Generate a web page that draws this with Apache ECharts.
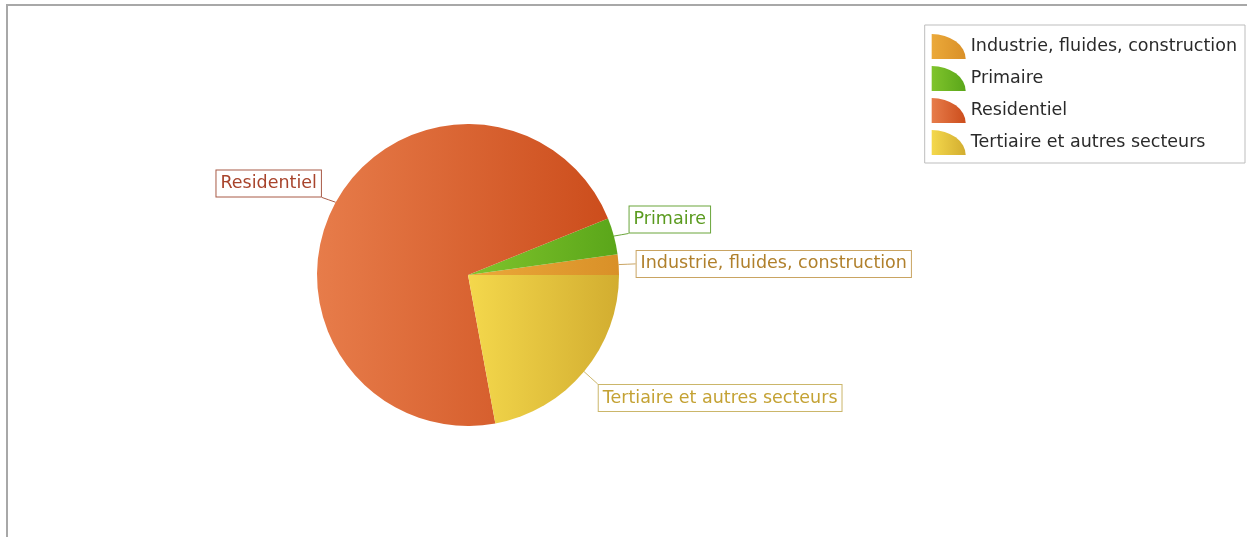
<!DOCTYPE html>
<html>
<head>
<meta charset="utf-8">
<script src="https://cdn.jsdelivr.net/npm/echarts@6/dist/echarts.min.js"></script>
<style>
html,body{margin:0;padding:0;background:#fff;}
#frame{position:absolute;left:6px;top:4px;width:1241px;height:533px;border-top:2px solid #a8a8a8;border-left:2px solid #a8a8a8;box-sizing:border-box;}
#chart{position:absolute;left:0;top:0;width:1247px;height:537px;}
</style>
</head>
<body>
<div id="frame"></div>
<div id="chart"></div>
<script>
var categories = ['Industrie, fluides, construction', 'Primaire', 'Residentiel', 'Tertiaire et autres secteurs'];
var values = [2.2, 3.9, 71.8, 22.1];
var colorsLight = ['#eba93a', '#80c42c', '#e77c4a', '#f4d84c'];
var colorsDark = ['#d99028', '#5aa61a', '#cc4d1c', '#d2ad30'];
var labelText = ['#b0802c', '#5a9a1e', '#a8442c', '#c4a234'];
var labelBorder = ['#c9a462', '#6aa53a', '#a85a46', '#cbb66a'];

// label offsets (style only)
var labelShiftX = [2, 0, 0, 1];
var labelShiftY = [0, -14, -14, 20];

var chart = echarts.init(document.getElementById('chart'));
function grad(i) {
  return new echarts.graphic.LinearGradient(0, 0, 1, 0, [
    {offset: 0, color: colorsLight[i]},
    {offset: 1, color: colorsDark[i]}
  ]);
}
var data = categories.map(function (c, i) {
  return {
    name: c,
    value: values[i],
    itemStyle: {color: grad(i)},
    label: {color: labelText[i], borderColor: labelBorder[i]},
    labelLine: {lineStyle: {color: labelBorder[i]}}
  };
});

var option = {
  animation: false,
  legend: {
    orient: 'vertical',
    right: 2,
    top: 25,
    padding: [9, 8, 8, 7],
    borderColor: '#bdbdbd',
    borderWidth: 1,
    itemWidth: 34,
    itemHeight: 25,
    itemGap: 7,
    icon: 'path://M0,25 L0,0 A34,25 0 0 1 34,25 Z',
    textStyle: {fontFamily: 'DejaVu Sans', fontSize: 17.5, color: '#2a2a2a'},
    data: categories.map(function (c, i) {
      return {name: c, itemStyle: {color: grad(i)}};
    })
  },
  series: [{
    type: 'pie',
    center: [468, 275],
    radius: 151,
    startAngle: 0,
    clockwise: false,
    avoidLabelOverlap: false,
    label: {
      show: true,
      position: 'outside',
      fontFamily: 'DejaVu Sans',
      fontSize: 17.5,
      lineHeight: 19,
      borderWidth: 1,
      padding: [4, 4, 3, 4],
      backgroundColor: '#fff',
      distanceToLabelLine: 0
    },
    labelLine: {show: true, length: 10, length2: 6, smooth: false},
    labelLayout: function (p) {
      var i = p.dataIndex;
      var r = p.labelRect;
      var dx = labelShiftX[i], dy = labelShiftY[i];
      var pts = p.labelLinePoints;
      var res = {dx: dx, dy: dy};
      if (pts && pts.length) {
        var p0 = pts[0];
        var orig = pts[pts.length - 1];
        var top = r.y + dy, bottom = r.y + dy + r.height;
        var left = r.x + dx, right = r.x + dx + r.width;
        var ex = (orig[0] < p0[0]) ? right : left;
        var ey = Math.max(top, Math.min(bottom, orig[1]));
        res.labelLinePoints = [p0, [(p0[0] + ex) / 2, (p0[1] + ey) / 2], [ex, ey]];
      }
      return res;
    },
    emphasis: {disabled: true},
    data: data
  }]
};
chart.setOption(option);
</script>
</body>
</html>
